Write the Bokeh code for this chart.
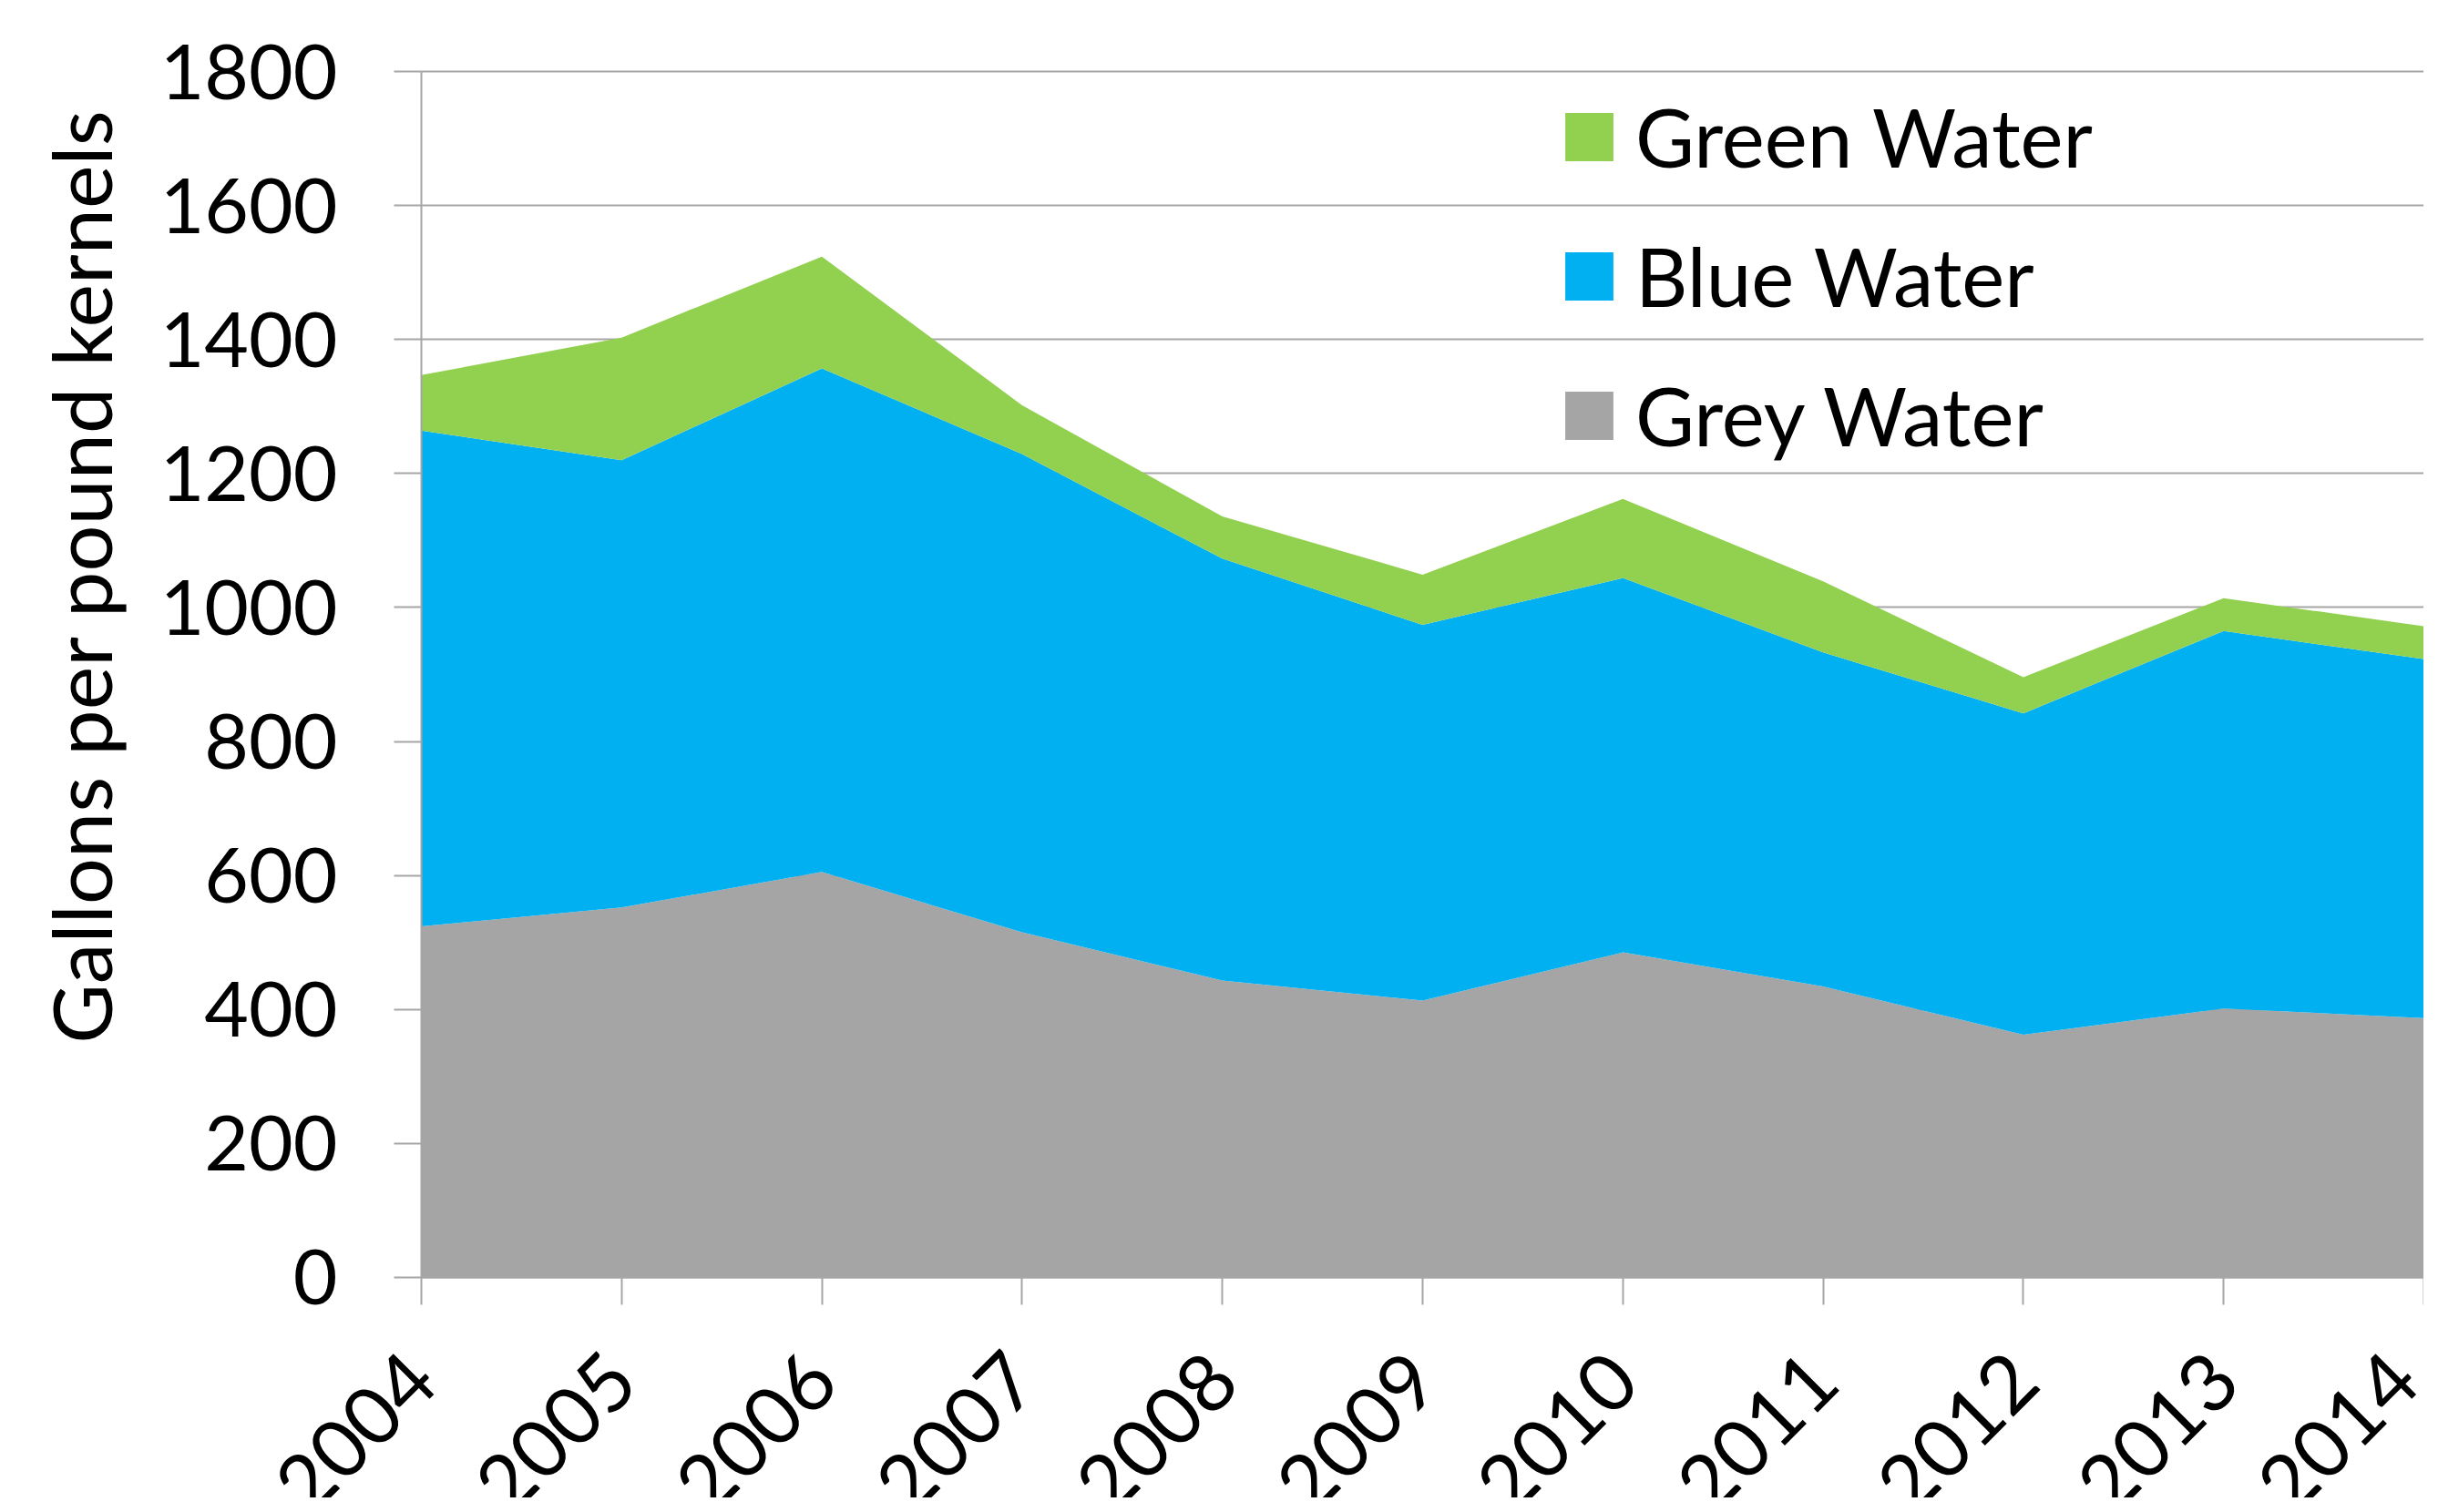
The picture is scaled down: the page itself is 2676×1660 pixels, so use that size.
import math
from bokeh.plotting import figure
from bokeh.models import (ColumnDataSource, Range1d, FixedTicker, Legend,
                          LegendItem, Label)
from bokeh.core.properties import value
from bokeh.embed import file_html
from bokeh.resources import INLINE

# ---- data ----
years = [2004, 2005, 2006, 2007, 2008, 2009, 2010, 2011, 2012, 2013, 2014]
year_labels = ["2004", "2005", "2006", "2007", "2008", "2009", "2010",
               "2011", "2012", "2013", "2014"]
grey_water = [524, 552, 605, 515, 443, 413, 485, 434, 362, 401, 387]
blue_water = [740, 668, 752, 714, 630, 561, 559, 499, 480, 564, 536]
green_water = [83, 183, 167, 73, 63, 75, 118, 106, 54, 49, 49]
y_ticks = [0, 200, 400, 600, 800, 1000, 1200, 1400, 1600, 1800]
series_keys = ["grey", "blue", "green"]
series_names = ["Grey Water", "Blue Water", "Green Water"]
series_colors = ["#a5a5a5", "#00b0f0", "#92d050"]
y_title = "Gallons per pound kernels"

FONT = "Lato"
GRID = "#a6a6a6"

src = ColumnDataSource(dict(year=years, grey=grey_water, blue=blue_water,
                            green=green_water))

# frame covers the whole canvas; axes are pinned at x=2004 / y=0
p = figure(width=2660, height=1644, output_backend="svg", toolbar_location=None,
           x_range=Range1d(2001.898, 2014), y_range=Range1d(-329.6, 1906.5),
           min_border_left=0, min_border_right=0,
           min_border_top=0, min_border_bottom=0)
p.outline_line_color = None
p.background_fill_color = "white"
p.border_fill_color = "white"

rs = p.varea_stack(stackers=series_keys, x="year", fill_color=series_colors,
                   source=src)

xa = p.xaxis[0]
xa.fixed_location = 0
xa.bounds = (2004, 2014)
xa.ticker = FixedTicker(ticks=years)
xa.major_label_overrides = {y: lab for y, lab in zip(years, year_labels)}
xa.major_label_orientation = math.pi / 4
xa.major_label_text_font = FONT
xa.major_label_text_font_size = "88px"
xa.major_label_text_color = "black"
xa.major_label_standoff = 68
xa.major_tick_out = 30
xa.major_tick_in = 0
xa.minor_tick_line_color = None
xa.axis_line_color = GRID
xa.axis_line_width = 2
xa.major_tick_line_color = GRID
xa.major_tick_line_width = 2

ya = p.yaxis[0]
ya.fixed_location = 2004
ya.bounds = (0, 1800)
ya.ticker = FixedTicker(ticks=y_ticks)
ya.major_label_text_font = FONT
ya.major_label_text_font_size = "84px"
ya.major_label_text_color = "black"
ya.major_label_standoff = 62
ya.major_tick_out = 30
ya.major_tick_in = 0
ya.minor_tick_line_color = None
ya.axis_line_color = GRID
ya.axis_line_width = 2
ya.major_tick_line_color = GRID
ya.major_tick_line_width = 2

p.xgrid.visible = False
p.ygrid.grid_line_color = GRID
p.ygrid.grid_line_width = 2
p.ygrid.cross_bounds = (2004, 2014)

ylab = Label(x=87, y=1012, x_units="screen", y_units="screen", text=y_title,
             angle=math.pi / 2, text_align="center", text_baseline="alphabetic",
             text_font=FONT, text_font_size="90px", text_color="black")
p.add_layout(ylab)

items = [LegendItem(label=value(series_names[i]), renderers=[rs[i]]) for i in (2, 1, 0)]
legend = Legend(items=items, location=(1711, 1135), orientation="vertical",
                border_line_color=None, background_fill_alpha=0,
                padding=0, margin=0, spacing=46, label_height=104,
                glyph_width=66, glyph_height=66, label_standoff=18,
                label_text_font=FONT, label_text_font_size="89px",
                label_text_color="black")
p.add_layout(legend)

open("out.html", "w").write(file_html(p, INLINE))
